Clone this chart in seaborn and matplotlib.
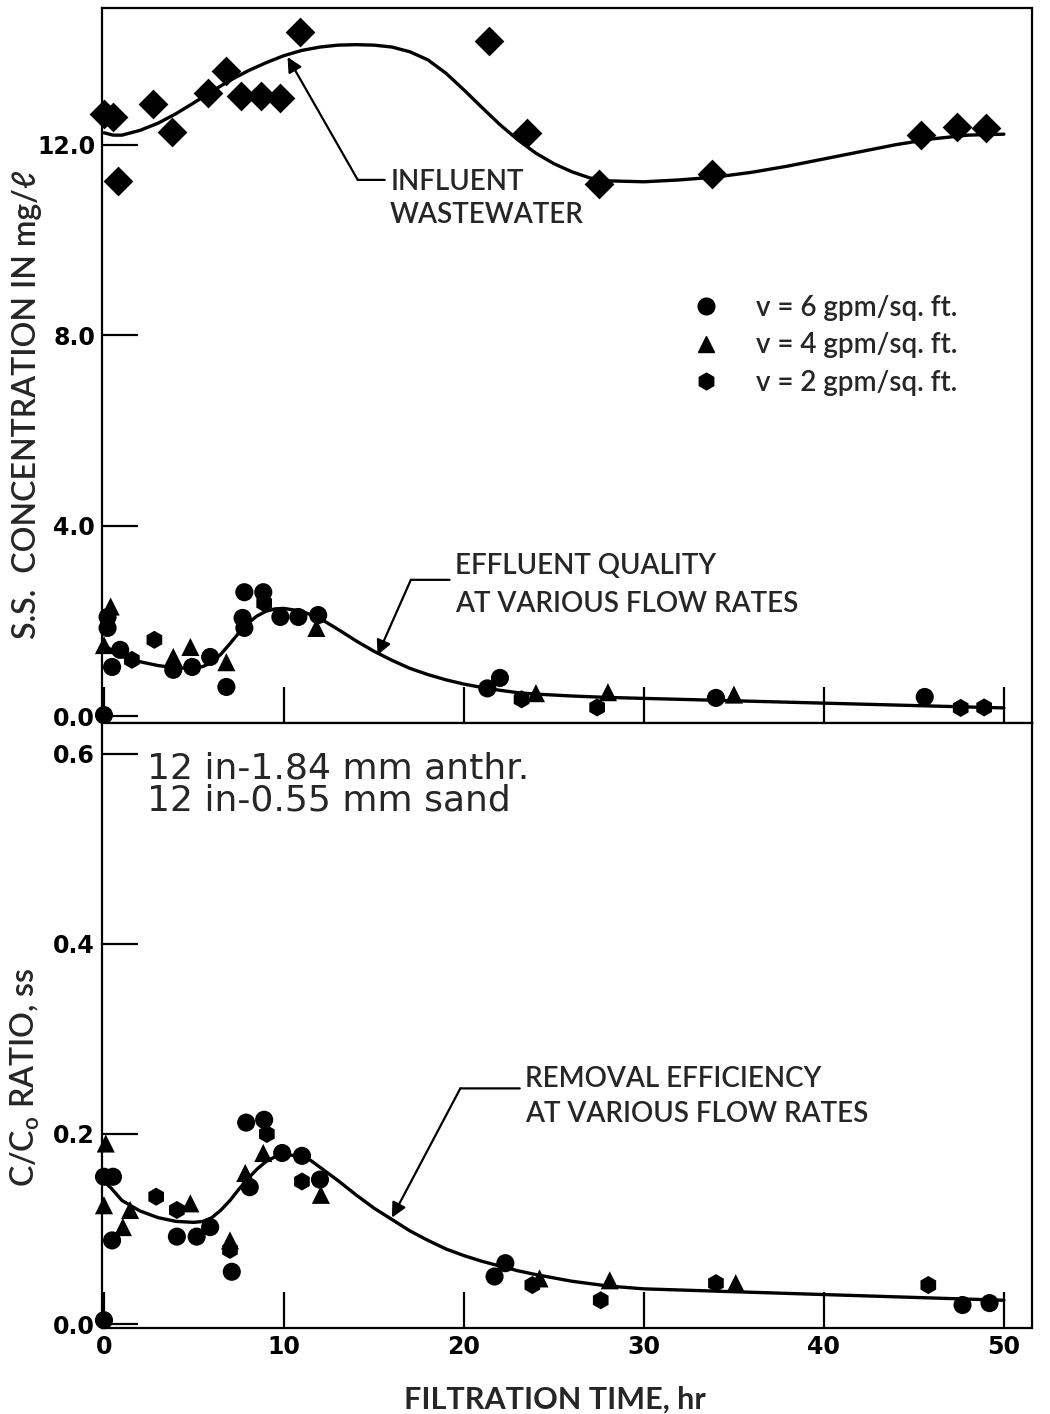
import numpy as np
import pandas as pd
import matplotlib
matplotlib.use("Agg")
import matplotlib.pyplot as plt
import seaborn as sns
from matplotlib.lines import Line2D

# ---------------- data ----------------
# Influent wastewater S.S. (mg/l)
infl_x = [0.0, 0.5, 0.8, 2.7, 3.8, 5.8, 6.8, 7.6, 8.7, 9.8, 10.9, 21.4, 23.5, 27.5, 33.8, 45.4, 47.4, 49.0]
infl_y = [12.64, 12.59, 11.23, 12.85, 12.26, 13.08, 13.54, 13.03, 13.03, 12.99, 14.37, 14.18, 12.24, 11.17, 11.38, 12.2, 12.38, 12.34]
infl_curve_x = [0, 0.5, 1, 2, 3, 4, 5, 6, 7, 8, 9, 10, 11, 12, 13, 14, 15, 16, 17, 18, 19, 20, 21, 22, 23, 24, 25, 26, 27, 28, 30, 32, 34, 36, 38, 40, 42, 44, 46, 48, 50]
infl_curve_y = [12.25, 12.2, 12.2, 12.3, 12.45, 12.65, 12.88, 13.12, 13.35, 13.55, 13.72, 13.87, 13.98, 14.05, 14.09, 14.1, 14.09, 14.05, 13.95, 13.78, 13.5, 13.15, 12.78, 12.42, 12.1, 11.82, 11.6, 11.43, 11.3, 11.24, 11.22, 11.26, 11.32, 11.42, 11.55, 11.7, 11.85, 12.0, 12.12, 12.2, 12.22]

rates = ["v = 6 gpm/sq. ft.", "v = 4 gpm/sq. ft.", "v = 2 gpm/sq. ft."]

# Effluent S.S. (mg/l)
eff6_x = [0.0, 0.2, 0.2, 0.45, 0.9, 3.85, 4.9, 5.9, 6.8, 7.7, 7.8, 7.8, 8.85, 9.8, 10.8, 11.9, 21.3, 22.0, 34.0, 45.6]
eff6_y = [0.02, 2.08, 1.85, 1.03, 1.39, 0.97, 1.03, 1.24, 0.61, 2.06, 1.85, 2.6, 2.6, 2.08, 2.08, 2.12, 0.58, 0.8, 0.38, 0.4]
eff4_x = [0.37, 0.0, 3.85, 4.8, 6.8, 11.8, 24.0, 28.0, 35.0]
eff4_y = [2.3, 1.49, 1.24, 1.45, 1.13, 1.85, 0.48, 0.5, 0.45]
eff2_x = [1.55, 2.8, 8.9, 23.2, 27.4, 47.6, 48.9]
eff2_y = [1.18, 1.6, 2.37, 0.35, 0.18, 0.17, 0.18]
eff_curve_x = [0, 0.4, 1, 2, 3, 4, 5, 5.5, 6, 6.5, 7, 7.5, 8, 8.5, 9, 9.5, 10, 11, 12, 13, 14, 15, 16, 17, 18, 19, 20, 21, 22, 23, 24, 26, 28, 30, 35, 40, 45, 50]
eff_curve_y = [1.5, 1.39, 1.25, 1.14, 1.06, 1.01, 1.01, 1.04, 1.13, 1.3, 1.52, 1.75, 1.95, 2.1, 2.2, 2.25, 2.26, 2.2, 2.05, 1.82, 1.58, 1.36, 1.17, 1.0, 0.87, 0.76, 0.67, 0.6, 0.54, 0.49, 0.46, 0.42, 0.39, 0.37, 0.32, 0.27, 0.22, 0.17]

# C/Co ratio
rat6_x = [0.0, 0.0, 0.5, 0.45, 4.05, 5.15, 5.9, 7.1, 7.9, 8.1, 8.9, 9.9, 11.0, 12.0, 21.7, 22.3, 47.7, 49.2]
rat6_y = [0.004, 0.155, 0.155, 0.088, 0.092, 0.092, 0.102, 0.055, 0.212, 0.144, 0.215, 0.18, 0.177, 0.152, 0.05, 0.064, 0.02, 0.022]
rat4_x = [0.1, 0.0, 1.05, 1.45, 4.8, 7.0, 7.85, 8.85, 12.05, 24.2, 28.1, 35.1]
rat4_y = [0.19, 0.125, 0.102, 0.12, 0.127, 0.088, 0.159, 0.18, 0.136, 0.048, 0.046, 0.043]
rat2_x = [2.9, 4.05, 7.0, 9.05, 11.0, 23.8, 27.6, 34.0, 45.8]
rat2_y = [0.134, 0.12, 0.078, 0.2, 0.15, 0.041, 0.025, 0.043, 0.041]
rat_curve_x = [0, 0.4, 1, 2, 3, 4, 5, 5.5, 6, 6.5, 7, 7.5, 8, 8.5, 9, 9.5, 10, 11, 11.5, 12, 13, 14, 15, 16, 17, 18, 19, 20, 21, 22, 23, 24, 26, 28, 30, 35, 40, 45, 50]
rat_curve_y = [0.15, 0.143, 0.13, 0.119, 0.112, 0.108, 0.107, 0.108, 0.112, 0.12, 0.13, 0.142, 0.153, 0.163, 0.171, 0.176, 0.178, 0.177, 0.172, 0.165, 0.151, 0.136, 0.122, 0.11, 0.098, 0.088, 0.079, 0.072, 0.066, 0.061, 0.056, 0.052, 0.045, 0.04, 0.037, 0.034, 0.031, 0.028, 0.025]

media_text = "12 in-1.84 mm anthr.\n12 in-0.55 mm sand"

# ---------------- tables ----------------
def rate_frame(xs, ys):
    parts = []
    for r, x, y in zip(rates, xs, ys):
        parts.append(pd.DataFrame({"time": x, "value": y, "rate": r}))
    return pd.concat(parts, ignore_index=True)

eff_df = rate_frame([eff6_x, eff4_x, eff2_x], [eff6_y, eff4_y, eff2_y])
rat_df = rate_frame([rat6_x, rat4_x, rat2_x], [rat6_y, rat4_y, rat2_y])
infl_df = pd.DataFrame({"time": infl_x, "value": infl_y})
infl_curve = pd.DataFrame({"time": infl_curve_x, "value": infl_curve_y})
eff_curve = pd.DataFrame({"time": eff_curve_x, "value": eff_curve_y})
rat_curve = pd.DataFrame({"time": rat_curve_x, "value": rat_curve_y})

# ---------------- style ----------------
sns.set_theme(style="ticks")
plt.rcParams["font.family"] = ["Lato", "DejaVu Sans"]
plt.rcParams["axes.linewidth"] = 1.6
plt.rcParams["axes.edgecolor"] = "black"

marker_map = {rates[0]: "o", rates[1]: "^", rates[2]: "h"}

fig = plt.figure(figsize=(10.5, 14.14), dpi=100)
ax1 = fig.add_axes([0.09714, 0.48868, 0.88571, 0.50566])
ax2 = fig.add_axes([0.09714, 0.06082, 0.88571, 0.42786])

# --- top panel
sns.lineplot(data=infl_curve, x="time", y="value", ax=ax1, color="black", lw=2.4, sort=True)
sns.lineplot(data=eff_curve, x="time", y="value", ax=ax1, color="black", lw=2.4, sort=True)
sns.scatterplot(data=infl_df, x="time", y="value", ax=ax1, marker="D", s=230, color="black",
                linewidth=0, clip_on=False, zorder=5)
sns.scatterplot(data=eff_df, x="time", y="value", style="rate", markers=marker_map, ax=ax1,
                s=170, color="black", linewidth=0, legend=False, clip_on=False, zorder=5)

# --- bottom panel
sns.lineplot(data=rat_curve, x="time", y="value", ax=ax2, color="black", lw=2.4, sort=True)
sns.scatterplot(data=rat_df, x="time", y="value", style="rate", markers=marker_map, ax=ax2,
                s=170, color="black", linewidth=0, legend=False, clip_on=False, zorder=5)

xmin, xmax = -0.11, 51.56
for ax in (ax1, ax2):
    ax.set_xlim(xmin, xmax)
    ax.set_xticks([0, 10, 20, 30, 40, 50])
    ax.tick_params(axis="both", direction="in", length=26, width=1.6, colors="black",
                   labelsize=17, pad=5)
    for s in ax.spines.values():
        s.set_visible(True)
        s.set_linewidth(1.6)
        s.set_color("black")

ax1.set_ylim(-0.147, 14.87)
ax1.set_yticks([0, 4, 8, 12])
ax1.set_yticklabels(["0.0", "4.0", "8.0", "12.0"])
ax1.tick_params(axis="x", labelbottom=False)
ax1.set_xlabel("")

ax2.set_ylim(-0.0042, 0.6326)
ax2.set_yticks([0, 0.2, 0.4, 0.6])
ax2.set_yticklabels(["0.0", "0.2", "0.4", "0.6"])

for ax in (ax1, ax2):
    for lab in ax.get_yticklabels() + ax.get_xticklabels():
        lab.set_fontweight("bold")
        lab.set_fontfamily(["DejaVu Sans"])

lab_font = dict(fontsize=23, fontweight="semibold")
ax1.set_ylabel("S.S.  CONCENTRATION IN mg/ℓ", **lab_font)
ax1.yaxis.set_label_coords(-0.064, 0.445)
ax2.set_ylabel(r"C/C$_\mathregular{o}$ RATIO, ss", **lab_font)
ax2.yaxis.set_label_coords(-0.064, 0.415)
ax2.set_xlabel("FILTRATION TIME, hr", fontsize=22, fontweight="bold")
ax2.xaxis.set_label_coords(0.487, -0.095)

# --- legend
handles = [Line2D([], [], marker=marker_map[r], ls="", color="black", markersize=12) for r in rates]
ax1.legend(handles, rates, loc="upper left", bbox_to_anchor=(0.6237, 0.599), frameon=False,
           prop=dict(size=20, weight="semibold"), handlelength=1.7, handletextpad=0.95,
           labelspacing=0.42, borderpad=0, borderaxespad=0)

# --- annotations
ann_font = dict(fontsize=20, fontweight="semibold")
arrow = dict(arrowstyle="-|>", color="black", lw=1.6, mutation_scale=22, shrinkA=0, shrinkB=0)
plain = dict(arrowstyle="-", color="black", lw=1.6, shrinkA=0, shrinkB=0)

ax1.annotate("", xy=(10.2, 13.84), xytext=(14.1, 11.26), arrowprops=arrow)
ax1.annotate("", xy=(15.6, 11.26), xytext=(14.1, 11.26), arrowprops=plain)
ax1.text(15.9, 11.48, "INFLUENT\nWASTEWATER", va="top", ha="left", linespacing=1.3, **ann_font)

ax1.annotate("", xy=(15.2, 1.28), xytext=(17.05, 2.86), arrowprops=arrow)
ax1.annotate("", xy=(19.2, 2.86), xytext=(17.05, 2.86), arrowprops=plain)
ax1.text(19.5, 3.42, "EFFLUENT QUALITY\nAT VARIOUS FLOW RATES", va="top", ha="left",
         linespacing=1.55, **ann_font)

ax2.annotate("", xy=(16.0, 0.112), xytext=(19.8, 0.248), arrowprops=arrow)
ax2.annotate("", xy=(23.1, 0.248), xytext=(19.8, 0.248), arrowprops=plain)
ax2.text(23.4, 0.272, "REMOVAL EFFICIENCY\nAT VARIOUS FLOW RATES", va="top", ha="left",
         linespacing=1.45, **ann_font)

ax2.text(2.4, 0.603, media_text, fontsize=26, va="top", ha="left", linespacing=0.95,
         family=["DejaVu Sans"], fontweight="normal")

fig.savefig("out.png", dpi=100, facecolor="white")
